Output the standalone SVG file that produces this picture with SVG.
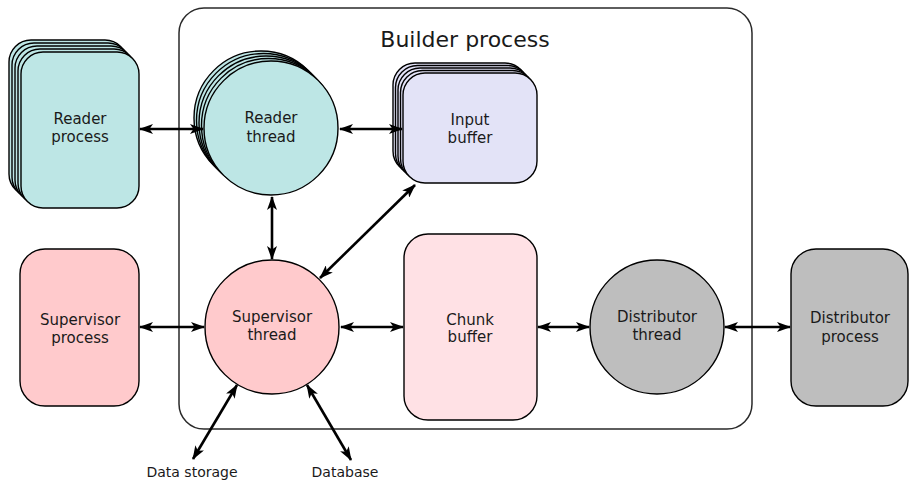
<svg xmlns="http://www.w3.org/2000/svg" width="909" height="481" viewBox="0 0 909 481">
  <defs>
    <marker id="head" viewBox="0 0 14 10" refX="13" refY="5" markerWidth="14" markerHeight="10" markerUnits="userSpaceOnUse" orient="auto-start-reverse">
      <path d="M0,0 L14,5 L0,10 L3.5,5 z" fill="#000"/>
    </marker>
  </defs>
  <style>
    .node { stroke: #000; stroke-width: 1.4; }
    .cyan { fill: #bde6e5; }
    .lav { fill: #e3e3f7; }
    .pink { fill: #ffcacc; }
    .lpink { fill: #ffe1e5; }
    .gray { fill: #bebebe; }
    .frame { fill: none; stroke: #2a2a2a; stroke-width: 1.5; }
    text { font-family: "DejaVu Sans", "Liberation Sans", sans-serif; font-size: 15px; fill: #1a1a1a; text-anchor: middle; }
    .title { font-size: 22px; }
    .lbl { font-size: 14px; }
    .link { stroke: #000; stroke-width: 2.6; fill: none; marker-start: url(#head); marker-end: url(#head); }
  </style>

  <!-- Builder process frame -->
  <g id="builder">
    <rect class="frame" x="179" y="8" width="573" height="421" rx="25"/>
    <text class="title" x="465" y="47">Builder process</text>
  </g>

  <!-- Reader process (stack of several) -->
  <g id="reader-process">
    <rect class="node cyan" x="9" y="40" width="118" height="156" rx="22"/>
    <rect class="node cyan" x="12" y="43" width="118" height="156" rx="22"/>
    <rect class="node cyan" x="15" y="46" width="118" height="156" rx="22"/>
    <rect class="node cyan" x="18" y="49" width="118" height="156" rx="22"/>
    <rect class="node cyan" x="21" y="52" width="118" height="156" rx="22"/>
    <text x="80" y="124">Reader</text>
    <text x="80" y="142">process</text>
  </g>

  <!-- Reader thread (stack of several) -->
  <g id="reader-thread">
    <circle class="node cyan" cx="261" cy="118" r="67"/>
    <circle class="node cyan" cx="263.5" cy="120.5" r="67"/>
    <circle class="node cyan" cx="266" cy="123" r="67"/>
    <circle class="node cyan" cx="268.5" cy="125.5" r="67"/>
    <circle class="node cyan" cx="271" cy="128" r="67"/>
    <text x="271" y="123">Reader</text>
    <text x="271" y="142">thread</text>
  </g>

  <!-- Input buffer (stack of several) -->
  <g id="input-buffer">
    <rect class="node lav" x="393" y="63" width="134" height="110" rx="22"/>
    <rect class="node lav" x="395.5" y="65.5" width="134" height="110" rx="22"/>
    <rect class="node lav" x="398" y="68" width="134" height="110" rx="22"/>
    <rect class="node lav" x="400.5" y="70.5" width="134" height="110" rx="22"/>
    <rect class="node lav" x="403" y="73" width="134" height="110" rx="22"/>
    <text x="470" y="125">Input</text>
    <text x="470" y="143">buffer</text>
  </g>

  <!-- Supervisor process -->
  <g id="supervisor-process">
    <rect class="node pink" x="20" y="249" width="119" height="157" rx="25"/>
    <text x="80" y="325">Supervisor</text>
    <text x="80" y="343">process</text>
  </g>

  <!-- Supervisor thread -->
  <g id="supervisor-thread">
    <circle class="node pink" cx="272" cy="327" r="67"/>
    <text x="272" y="322">Supervisor</text>
    <text x="272" y="340">thread</text>
  </g>

  <!-- Chunk buffer -->
  <g id="chunk-buffer">
    <rect class="node lpink" x="404" y="234" width="133" height="186" rx="24"/>
    <text x="470" y="325">Chunk</text>
    <text x="470" y="342">buffer</text>
  </g>

  <!-- Distributor thread -->
  <g id="distributor-thread">
    <circle class="node gray" cx="657" cy="327" r="67"/>
    <text x="657" y="322">Distributor</text>
    <text x="657" y="340">thread</text>
  </g>

  <!-- Distributor process -->
  <g id="distributor-process">
    <rect class="node gray" x="791" y="249" width="117" height="157" rx="25"/>
    <text x="850" y="323">Distributor</text>
    <text x="850" y="342">process</text>
  </g>

  <!-- External stores -->
  <g id="data-storage">
    <text class="lbl" x="192" y="477">Data storage</text>
  </g>
  <g id="database">
    <text class="lbl" x="345" y="477">Database</text>
  </g>

  <!-- Connectors -->
  <g id="connectors">
    <line class="link" x1="140" y1="129" x2="203" y2="129"/>
    <line class="link" x1="340" y1="129" x2="402" y2="129"/>
    <line class="link" x1="272" y1="197" x2="272" y2="259"/>
    <line class="link" x1="320" y1="278" x2="415" y2="185"/>
    <line class="link" x1="140" y1="327" x2="204" y2="327"/>
    <line class="link" x1="341" y1="327" x2="403" y2="327"/>
    <line class="link" x1="538" y1="327" x2="589" y2="327"/>
    <line class="link" x1="725" y1="327" x2="790" y2="327"/>
    <line class="link" x1="237" y1="385" x2="193" y2="459"/>
    <line class="link" x1="307" y1="385" x2="351" y2="460"/>
  </g>
</svg>
